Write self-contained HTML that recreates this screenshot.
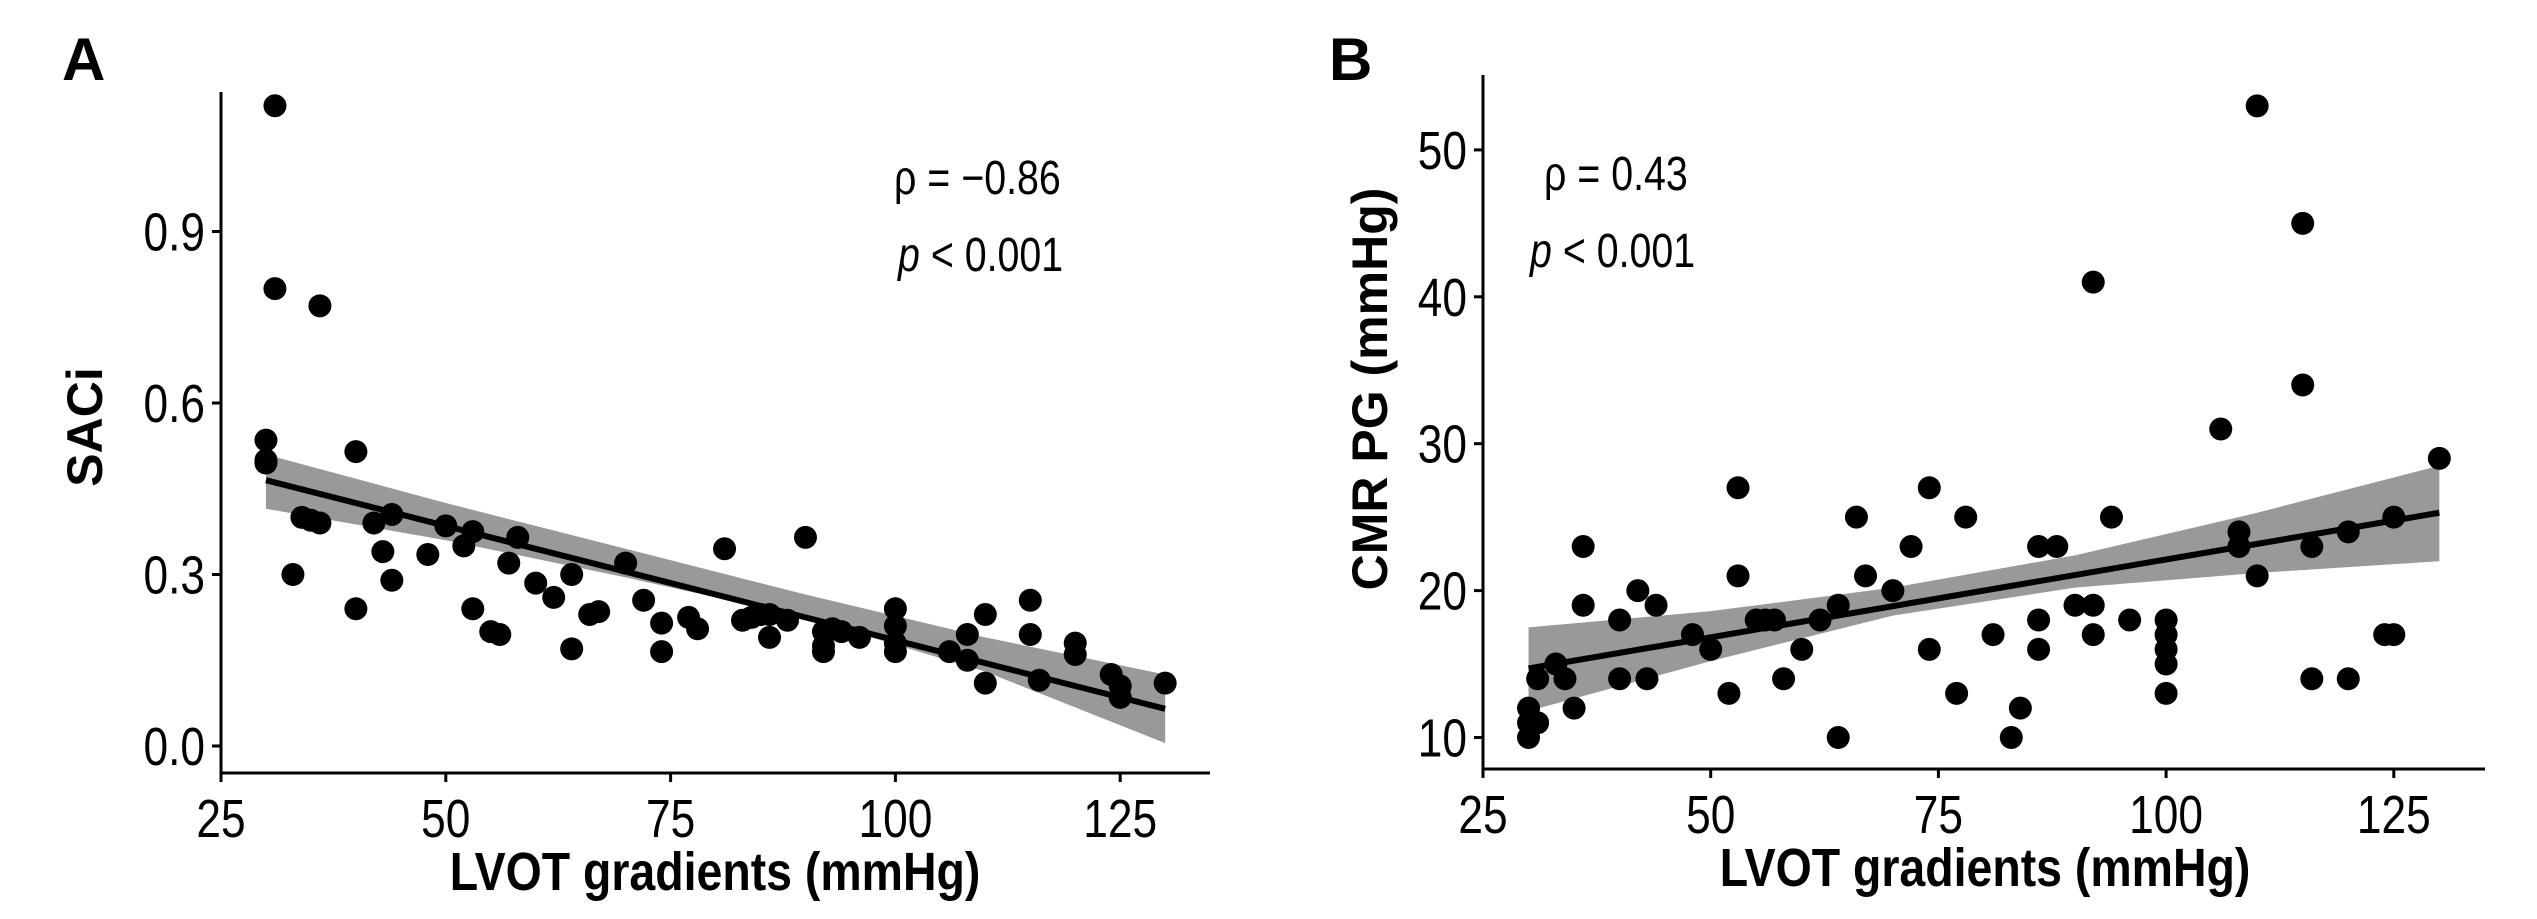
<!DOCTYPE html>
<html><head><meta charset="utf-8"><style>
html,body{margin:0;padding:0;background:#fff}
svg{display:block;font-family:"Liberation Sans",sans-serif}
</style></head><body>
<svg id="chart" width="2537" height="919" xmlns="http://www.w3.org/2000/svg"></svg>
<script>
const xTicks=[25,50,75,100,125];
const aYTicks=[0.0,0.3,0.6,0.9];
const aYTickLabels=["0.0","0.3","0.6","0.9"];
const bYTicks=[10,20,30,40,50];
const bYTickLabels=["10","20","30","40","50"];
const aX=[31,31,36,30,30,30,40,34,35,36,33,40,42,43,44,44,48,50,52,53,53,55,56,57,58,60,62,64,64,66,67,70,72,74,74,77,78,81,83,84,85,86,86,88,90,92,92,92,93,94,96,100,100,100,100,106,108,108,110,110,115,115,116,120,120,124,125,125,130];
const aY=[1.12,0.80,0.77,0.535,0.50,0.495,0.515,0.40,0.395,0.39,0.30,0.24,0.39,0.34,0.405,0.29,0.335,0.385,0.35,0.375,0.24,0.20,0.195,0.32,0.365,0.285,0.26,0.30,0.17,0.23,0.235,0.32,0.255,0.215,0.165,0.225,0.205,0.345,0.22,0.225,0.23,0.19,0.23,0.22,0.365,0.20,0.175,0.165,0.205,0.20,0.19,0.24,0.21,0.18,0.165,0.165,0.195,0.15,0.23,0.11,0.255,0.195,0.115,0.18,0.16,0.125,0.105,0.085,0.11];
const aFitX=[30,130];
const aFitY=[0.465,0.065];
const aBandX=[30,50,70,90,110,130];
const aBandLo=[0.415,0.36,0.295,0.225,0.13,0.005];
const aBandHi=[0.51,0.425,0.345,0.265,0.19,0.125];
const bX=[30,30,30,31,31,33,34,35,36,36,40,40,42,43,44,48,50,52,53,53,55,56,57,58,60,62,64,64,66,67,70,72,74,74,77,78,81,83,84,86,86,86,88,90,92,92,92,94,96,100,100,100,100,100,106,108,108,110,110,115,115,116,116,120,120,124,125,125,130];
const bY=[12,11,10,11,14,15,14,12,23,19,18,14,20,14,19,17,16,13,27,21,18,18,18,14,16,18,19,10,25,21,20,23,27,16,13,25,17,10,12,23,18,16,23,19,41,19,17,25,18,18,17,16,15,13,31,24,23,53,21,45,34,23,14,24,14,17,25,17,29];
const bFitX=[30,130];
const bFitY=[14.7,25.3];
const bBandX=[30,50,70,90,110,130];
const bBandLo=[11.8,15.2,18.3,20.2,21.2,22.0];
const bBandHi=[17.5,18.6,20.2,22.4,25.3,28.5];

const NS="http://www.w3.org/2000/svg";
const svg=document.getElementById('chart');
function mk(tag,attrs,parent,text){const e=document.createElementNS(NS,tag);for(const k in attrs)e.setAttribute(k,attrs[k]);if(text!==undefined)e.textContent=text;(parent||svg).appendChild(e);return e;}
const SX=0.82;

function panel(cfg){
  const g=mk('g',{});
  
  
  const sx=v=>cfg.x0+(v-25)*cfg.xs;
  const sy=v=>cfg.y0-(v-cfg.yBase)*cfg.ys;
  let d='';
  cfg.bandX.forEach((x,i)=>{d+=(i?'L':'M')+sx(x)+','+sy(cfg.bandHi[i]);});
  for(let i=cfg.bandX.length-1;i>=0;i--)d+='L'+sx(cfg.bandX[i])+','+sy(cfg.bandLo[i]);
  const band=mk('path',{d:d+'Z',fill:'#999'},g);
  
  
  cfg.px.forEach((x,i)=>{
    const c=mk('circle',{cx:sx(x),cy:sy(cfg.py[i]),r:11.5,fill:'#000'},g);
    
    
  });
  const fl=mk('line',{x1:sx(cfg.fitX[0]),y1:sy(cfg.fitY[0]),x2:sx(cfg.fitX[1]),y2:sy(cfg.fitY[1]),stroke:'#000','stroke-width':6},g);
  
  
  const ya=mk('line',{x1:cfg.x0,y1:cfg.yTop,x2:cfg.x0,y2:cfg.axisY,stroke:'#000','stroke-width':3},g);
  
  
  const xa=mk('line',{x1:cfg.x0-1.5,y1:cfg.axisY,x2:cfg.xEnd,y2:cfg.axisY,stroke:'#000','stroke-width':3},g);
  
  
  xTicks.forEach(t=>{
    mk('line',{x1:sx(t),y1:cfg.axisY,x2:sx(t),y2:cfg.axisY+9,stroke:'#000','stroke-width':3},g);
    const tl=mk('text',{x:0,y:0,'font-size':54,'text-anchor':'middle',transform:`translate(${sx(t)},${cfg.axisY+64}) scale(${SX},1)`},g,String(t));
    
    
  });
  cfg.yTicks.forEach((t,i)=>{
    mk('line',{x1:cfg.x0-9,y1:sy(t),x2:cfg.x0,y2:sy(t),stroke:'#000','stroke-width':3},g);
    const tl=mk('text',{x:0,y:0,'font-size':54,'text-anchor':'end',transform:`translate(${cfg.x0-16},${sy(t)+19}) scale(${SX},1)`},g,cfg.yLabels[i]);
    
    
  });
  const xt=mk('text',{x:0,y:0,'font-size':54,'font-weight':'bold','text-anchor':'middle',transform:`translate(${cfg.xTitleX},${cfg.axisY+117}) scale(0.86,1)`},g,'LVOT gradients (mmHg)');
  
  
  const yt=mk('text',{x:0,y:0,'font-size':50,'font-weight':'bold','text-anchor':'middle',transform:`translate(${cfg.yTitleX},${cfg.yTitleY}) rotate(-90)`},g,cfg.yTitle);
  
  
  const pl=mk('text',{x:cfg.letterX,y:80,'font-size':60,'font-weight':'bold'},g,cfg.letter);
  
  
  const r=mk('text',{x:0,y:0,'font-size':48,transform:`translate(${cfg.rhoX},${cfg.rhoY}) scale(${SX},1)`},g,cfg.rho);
  
  
  const p=mk('text',{x:0,y:0,'font-size':48,transform:`translate(${cfg.pX},${cfg.rhoY+77}) scale(${SX},1)`},g);
  
  
  mk('tspan',{'font-style':'italic'},p,'p');
  mk('tspan',{},p,' < 0.001');
}

panel({name:'panel-a',x0:221,xs:224.8/25,y0:746,yBase:0,ys:171.5/0.3,yTop:92,axisY:773,xEnd:1210,
  bandX:aBandX,bandLo:aBandLo,bandHi:aBandHi,px:aX,py:aY,fitX:aFitX,fitY:aFitY,
  yTicks:aYTicks,yLabels:aYTickLabels,xTitleX:715,yTitleX:102,yTitleY:427,yTitle:'SACi',
  letter:'A',letterX:62,rho:'ρ = −0.86',rhoX:894,rhoY:194,pX:898});
panel({name:'panel-b',x0:1483,xs:227.7/25,y0:737.5,yBase:10,ys:146.9/10,yTop:75,axisY:769,xEnd:2485,
  bandX:bBandX,bandLo:bBandLo,bandHi:bBandHi,px:bX,py:bY,fitX:bFitX,fitY:bFitY,
  yTicks:bYTicks,yLabels:bYTickLabels,xTitleX:1985,yTitleX:1387,yTitleY:389,yTitle:'CMR PG (mmHg)',
  letter:'B',letterX:1329,rho:'ρ = 0.43',rhoX:1544,rhoY:190,pX:1530});
</script>
</body></html>
